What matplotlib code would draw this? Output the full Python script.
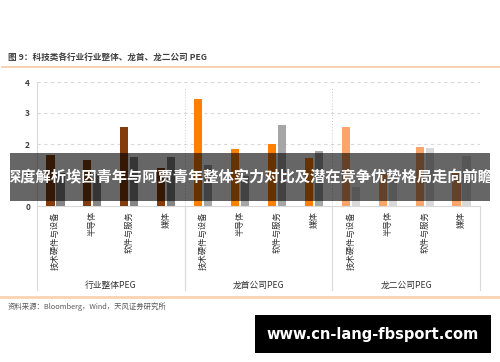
import matplotlib
matplotlib.use("Agg")
import matplotlib.pyplot as plt
from matplotlib.patches import Rectangle
import numpy as np

plt.rcParams["font.family"] = ["Noto Sans CJK SC", "DejaVu Sans"]
plt.rcParams["axes.unicode_minus"] = False

groups = ["行业整体PEG", "龙首公司PEG", "龙二公司PEG"]
categories = ["技术硬件与设备", "半导体", "软件与服务", "媒体"]

industry = [1.65, 1.48, 2.55, 1.24]
industry_ref = [1.07, 1.02, 1.58, 1.57]
leader = [3.45, 1.83, 2.00, 1.55]
leader_ref = [1.32, 0.97, 2.60, 1.77]
second = [2.55, 1.07, 1.90, 1.07]
second_ref = [0.62, 1.07, 1.87, 1.60]

main_colors = ["#843C0C", "#FF7F00", "#FBA56B"]
ref_colors = ["#858585", "#A6A6A6", "#D9D9D9"]

W, H = 500, 362
fig = plt.figure(figsize=(W / 100, H / 100), dpi=100)


def fx(px):
    return px / W


def fy(py):
    return 1 - py / H


ax = fig.add_axes([fx(37), fy(206), fx(480 - 37), (206 - 82) / H])

series = [(industry, industry_ref), (leader, leader_ref), (second, second_ref)]
bar_w = 0.22
off = 0.135
for g, (main, ref) in enumerate(series):
    x = np.arange(len(categories)) + g * len(categories)
    ax.bar(x - off, main, width=bar_w, color=main_colors[g], zorder=3)
    ax.bar(x + off, ref, width=bar_w, color=ref_colors[g], zorder=3)

ax.set_xlim(-0.5, 11.5)
ax.set_ylim(0, 4)
ax.set_yticks([0, 1, 2, 3, 4])
ax.set_xticks([])
ax.tick_params(axis="y", length=0, pad=5, labelsize=6, labelcolor="#404040")
for lab in ax.get_yticklabels():
    lab.set_fontweight("bold")

for y in [1, 2, 3, 4]:
    ax.axhline(y, color="#D9D9D9", lw=0.8, ls=(0, (3, 3)), zorder=1)

for s in ["top", "right"]:
    ax.spines[s].set_visible(False)
ax.spines["left"].set_color("#D9D9D9")
ax.spines["bottom"].set_color("#D9D9D9")
ax.spines["left"].set_linewidth(0.8)
ax.spines["bottom"].set_linewidth(0.8)

# dotted group separators inside the plot
for xs in [3.5, 7.5]:
    ax.plot([xs, xs], [0, 3.8], color="#C8C8C8", lw=0.7, ls=(0, (1, 2)), zorder=1)

# separators and labels below the axis
xt = ax.get_xaxis_transform()
for xs in [-0.5, 3.5, 7.5, 11.5]:
    ax.plot([xs, xs], [0, -0.68], transform=xt, color="#D9D9D9", lw=0.8,
            clip_on=False)

for g in range(len(groups)):
    for i, cat in enumerate(categories):
        xc = g * len(categories) + i
        ax.text(xc, -0.04, cat, transform=xt, rotation=90, ha="center",
                va="top", fontsize=6, color="#333333")
    ax.text(g * len(categories) + 1.5, -0.637, groups[g], transform=xt,
            ha="center", va="center", fontsize=6.3, color="#333333")

# title and rules
fig.text(fx(8), fy(57), "图 9：科技类各行业行业整体、龙首、龙二公司 PEG",
         fontsize=6.2, fontweight="bold", color="#404040", va="center")
fig.add_artist(plt.Line2D([fx(2), 1], [fy(67), fy(67)], color="#F6C9A4", lw=1.2))
fig.add_artist(plt.Line2D([0, 1], [fy(297), fy(297)], color="#FAD3B0", lw=2))
fig.text(fx(8), fy(307), "资料来源：Bloomberg，Wind，天风证券研究所",
         fontsize=5.3, color="#595959", va="center")

# overlay banner
fig.add_artist(Rectangle((fx(10), fy(201)), fx(480), 48 / H,
                         facecolor=(0, 0, 0, 0.6), edgecolor="none", zorder=10))
fig.text(0.5, fy(177), "深度解析埃因青年与阿贾青年整体实力对比及潜在竞争优势格局走向前瞻",
         fontsize=11, fontweight="bold", color="white", ha="center",
         va="center", zorder=11)

# watermark
fig.add_artist(Rectangle((fx(255), fy(353)), fx(236), 38 / H,
                         facecolor="black", edgecolor="none", zorder=10))
fig.text(fx(373), fy(334), "www.cn-lang-fbsport.com", fontsize=10.5,
         fontweight="bold", color="white", ha="center", va="center",
         family="DejaVu Sans", zorder=11)

fig.savefig("out.png", dpi=100)
